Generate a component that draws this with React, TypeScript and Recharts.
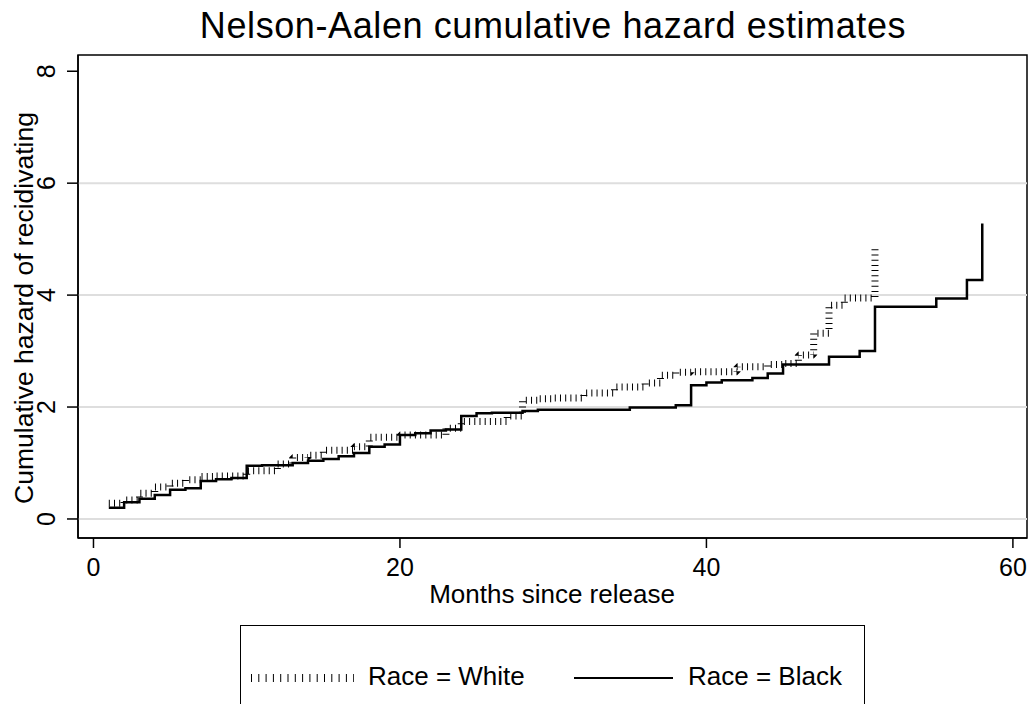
import React from 'react'
import {
  LineChart,
  Line,
  XAxis,
  YAxis,
  ReferenceLine,
  ReferenceArea,
  Label,
} from 'recharts'

// months since release (observed failure times)
const months = [
  1, 2, 3, 4, 5, 6, 7, 8, 9, 10, 11, 12, 13, 14, 15, 16, 17, 18, 19, 20,
  21, 22, 23, 24, 25, 26, 27, 28, 29, 30, 31, 32, 33, 34, 35, 36, 37, 38, 39, 40,
  41, 42, 43, 44, 45, 46, 47, 48, 49, 50, 51, 52, 53, 54, 55, 56, 57, 58,
]

// Nelson-Aalen estimates
const whiteHazard: (number | null)[] = [
  0.28, 0.34, 0.46, 0.57, 0.64, 0.70, 0.76, 0.77, 0.77, 0.86, 0.86, 0.98, 1.10, 1.14, 1.23, 1.23, 1.29, 1.46, 1.46, 1.50,
  1.50, 1.50, 1.62, 1.74, 1.74, 1.74, 1.84, 2.12, 2.15, 2.16, 2.16, 2.25, 2.25, 2.36, 2.36, 2.43, 2.57, 2.62, 2.63, 2.63,
  2.63, 2.72, 2.72, 2.76, 2.78, 2.93, 3.32, 3.82, 3.95, 3.95, 4.86, null, null, null, null, null, null, null,
]

const blackHazard: (number | null)[] = [
  0.20, 0.30, 0.36, 0.43, 0.52, 0.55, 0.68, 0.71, 0.73, 0.95, 0.96, 0.96, 1.00, 1.04, 1.07, 1.12, 1.18, 1.29, 1.33, 1.50,
  1.53, 1.58, 1.60, 1.84, 1.89, 1.90, 1.90, 1.93, 1.95, 1.95, 1.95, 1.95, 1.95, 1.95, 1.99, 1.99, 1.99, 2.03, 2.39, 2.44,
  2.48, 2.48, 2.52, 2.60, 2.76, 2.76, 2.76, 2.90, 2.90, 3.00, 3.79, 3.79, 3.79, 3.79, 3.94, 3.94, 4.27, 5.28,
]

const xTicks = [0, 20, 40, 60]
const yTicks = [0, 2, 4, 6, 8]
const gridLines = [0, 2, 4, 6]

const seriesNames = ['Race = White', 'Race = Black']

const chartData = months.map((month, i) => ({
  month,
  white: whiteHazard[i],
  black: blackHazard[i],
}))

const FONT = '"Liberation Sans", Arial, sans-serif'

const XTick = ({ x, y, payload }: any) => (
  <text x={x} y={y} dy="0.71em" textAnchor="middle" fontSize={25} fontFamily={FONT} fill="#000">
    {payload.value}
  </text>
)

const YTick = ({ x, y, payload }: any) => (
  <text
    x={x}
    y={y}
    transform={`rotate(-90 ${x} ${y})`}
    textAnchor="middle"
    fontSize={25}
    fontFamily={FONT}
    fill="#000"
  >
    {payload.value}
  </text>
)

const LegendBox = () => (
  <div
    style={{
      position: 'absolute',
      left: 240,
      top: 625,
      width: 625,
      height: 100,
      border: '1.5px solid #000',
      boxSizing: 'border-box',
      fontFamily: FONT,
      fontSize: 26,
      lineHeight: '30px',
      color: '#000',
    }}
  >
    <svg width={625} height={100} style={{ position: 'absolute', left: 0, top: 0 }}>
      <line x1={10} x2={113} y1={52} y2={52} stroke="#000" strokeWidth={8} strokeDasharray="1 6.3" />
      <line x1={333} x2={432} y1={52} y2={52} stroke="#000" strokeWidth={2} />
    </svg>
    <span style={{ position: 'absolute', left: 127, top: 35 }}>{seriesNames[0]}</span>
    <span style={{ position: 'absolute', left: 447, top: 35 }}>{seriesNames[1]}</span>
  </div>
)

export default function App() {
  return (
    <div style={{ position: 'absolute', left: 0, top: 0, width: 1028, height: 704, background: '#fff', overflow: 'hidden' }}>
      <div
        style={{
          position: 'absolute',
          left: 0,
          width: 1106,
          top: 5,
          textAlign: 'center',
          fontFamily: FONT,
          fontSize: 36,
          letterSpacing: 0.6,
          color: '#000',
        }}
      >
        Nelson-Aalen cumulative hazard estimates
      </div>
      <LineChart
        width={1028}
        height={704}
        data={chartData}
        margin={{ top: 55, right: 1, left: 0, bottom: 96 }}
      >
        <XAxis
          dataKey="month"
          type="number"
          domain={[-1.01, 60.92]}
          ticks={xTicks}
          allowDataOverflow
          height={70}
          tickSize={10}
          tickMargin={10}
          axisLine={{ stroke: '#000', strokeWidth: 1.5 }}
          tickLine={{ stroke: '#000', strokeWidth: 1.5 }}
          tick={<XTick />}
        >
          <Label
            content={() => (
              <text x={552} y={603} textAnchor="middle" fontSize={26} fontFamily={FONT} fill="#000">
                Months since release
              </text>
            )}
          />
        </XAxis>
        <YAxis
          type="number"
          domain={[-0.34, 8.29]}
          ticks={yTicks}
          allowDataOverflow
          width={78}
          tickSize={11}
          tickMargin={12}
          axisLine={{ stroke: '#000', strokeWidth: 1.5 }}
          tickLine={{ stroke: '#000', strokeWidth: 1.5 }}
          tick={<YTick />}
        >
          <Label
            content={() => (
              <text
                x={33}
                y={308}
                transform="rotate(-90 33 308)"
                textAnchor="middle"
                fontSize={26.5}
                fontFamily={FONT}
                fill="#000"
              >
                Cumulative hazard of recidivating
              </text>
            )}
          />
        </YAxis>
        {gridLines.map((v) => (
          <ReferenceLine key={v} y={v} stroke="#dedede" strokeWidth={2} />
        ))}
        <Line
          type="stepAfter"
          dataKey="white"
          name={seriesNames[0]}
          stroke="#000"
          strokeWidth={7}
          strokeDasharray="1 4.2"
          strokeLinecap="butt"
          strokeLinejoin="bevel"
          dot={false}
          activeDot={false}
          isAnimationActive={false}
        />
        <Line
          type="stepAfter"
          dataKey="black"
          name={seriesNames[1]}
          stroke="#000"
          strokeWidth={2.5}
          dot={false}
          activeDot={false}
          isAnimationActive={false}
        />
        <ReferenceArea
          x1={-1.01}
          x2={60.92}
          y1={-0.34}
          y2={8.29}
          fill="none"
          fillOpacity={0}
          stroke="#000"
          strokeWidth={1.5}
          ifOverflow="visible"
        />
      </LineChart>
      <LegendBox />
    </div>
  )
}
